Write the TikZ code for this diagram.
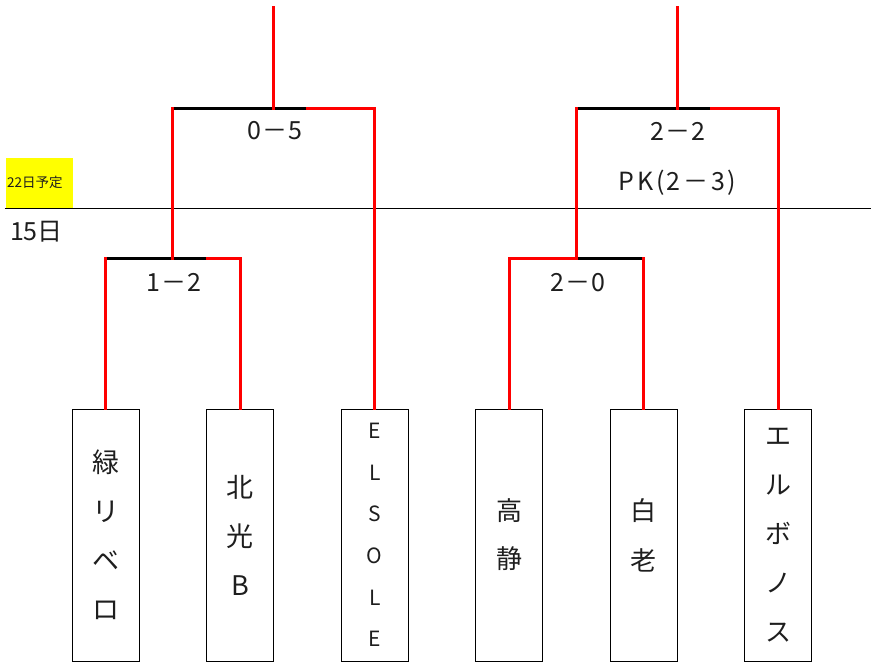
\documentclass[tikz,border=0pt]{standalone}
\usepackage{fontspec}
\setmainfont{Noto Sans CJK JP}
\definecolor{txt}{RGB}{30,30,30}
\definecolor{hl}{RGB}{255,255,0}
\begin{document}
\begin{tikzpicture}[x=1pt,y=-1pt,
  redl/.style={draw=red, line width=3pt, line cap=rect},
  blk/.style={draw=black, line width=3pt, line cap=rect},
  team/.style={draw=black, line width=1pt, rectangle, minimum width=67pt,
    minimum height=252pt, inner sep=0pt, align=center, text=txt},
  score/.style={font=\fontsize{25}{28}\selectfont, text=txt, inner sep=0pt},
  lead/.style 2 args={font=\fontsize{#1}{#2}\selectfont}]
\useasboundingbox (0,0) rectangle (871,662);

% day marker
\node[fill=hl, minimum width=67pt, minimum height=50pt, inner sep=0pt, anchor=north west] (yb) at (6,157.5) {};
\node[anchor=west, inner sep=0pt, text=txt, font=\fontsize{13.5}{15}\selectfont] (d22) at (7,182.5) {22日予定};
\coordinate (dl0) at (4.5,208.3);
\coordinate (dl1) at (871,208.3);
\draw[line width=1pt, black] (dl0) -- (dl1);
\node[score, anchor=center] (d15) at (36.5,231.5) {15日};

% teams
\node[team, lead={27}{49pt}] (t1) at (105.8,535) {緑\\リ\\ベ\\ロ};
\node[team, lead={27}{49pt}] (t2) at (240,535) {北\\光\\B};
\node[team, lead={21}{41.6pt}] (t3) at (374.7,535) {E\\L\\S\\O\\L\\E};
\node[team, lead={26}{48pt}] (t4) at (509,535) {高\\静};
\node[team, lead={26}{50pt}] (t5) at (643.5,535) {白\\老};
\node[team, lead={26}{49pt}] (t6) at (778,535) {エ\\ル\\ボ\\ノ\\ス};

% bracket coordinates
\coordinate (a1) at (105.8,258.3);
\coordinate (s1) at (207,258.3);
\coordinate (b1) at (240,258.3);
\coordinate (j1) at (172.3,258.3);
\coordinate (a2) at (172.3,108.3);
\coordinate (s2) at (307,108.3);
\coordinate (b2) at (374.7,108.3);
\coordinate (j2) at (273.3,108.3);
\coordinate (top1) at (273.3,7);

\coordinate (a3) at (509,258.3);
\coordinate (j3) at (576,258.3);
\coordinate (b3) at (643.5,258.3);
\coordinate (a4) at (576,108.3);
\coordinate (s4) at (711,108.3);
\coordinate (b4) at (778,108.3);
\coordinate (j4) at (677,108.3);
\coordinate (top2) at (677,7);

% left half
\draw[blk] (a1) -- (s1);
\draw[redl] (s1) -- (b1);
\draw[blk] (a2) -- (s2);
\draw[redl] (s2) -- (b2);
\draw[redl] (a1) -- (t1.north);
\draw[redl] (b1) -- (t2.north);
\draw[redl] (j1) -- (a2);
\draw[redl] (b2) -- (t3.north);
\draw[redl] (top1) -- (j2);

% right half
\draw[redl] (a3) -- (j3);
\draw[blk] (j3) -- (b3);
\draw[blk] (a4) -- (s4);
\draw[redl] (s4) -- (b4);
\draw[redl] (a3) -- (t4.north);
\draw[redl] (b3) -- (t5.north);
\draw[redl] (j3) -- (a4);
\draw[redl] (b4) -- (t6.north);
\draw[redl] (top2) -- (j4);

% scores
\node[score] (r1) at (174,282.5) {1\kern1pt－\kern1pt2};
\node[score] (r2) at (275,131) {0\kern1pt－\kern1pt5};
\node[score] (r3) at (577.5,282.5) {2\kern1pt－\kern1pt0};
\node[score] (r4) at (677.5,131.5) {2\kern1pt－\kern1pt2};
\node[score] (r5) at (677,182.5) {P\kern3pt K\kern3pt(\kern2pt2\kern3pt－\kern3pt3\kern2pt)};
\end{tikzpicture}
\end{document}
